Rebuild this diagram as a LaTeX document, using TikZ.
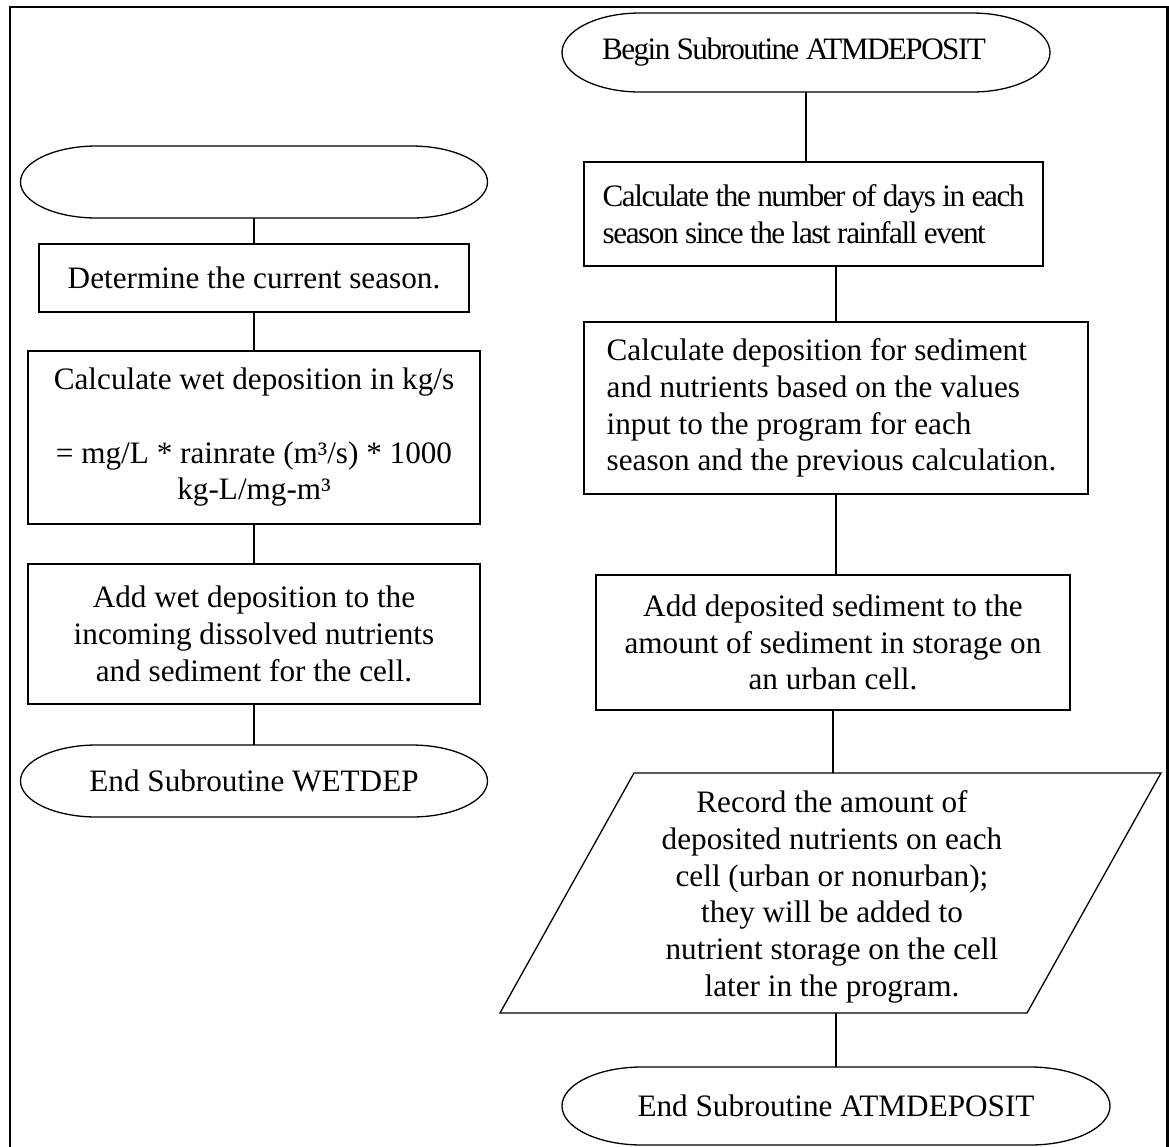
\documentclass[tikz,border=0pt]{standalone}
\usepackage{fontspec}
\setmainfont{Liberation Serif}
\newfontfamily\tightA[LetterSpace=-5.0]{Liberation Serif}
\newfontfamily\tightB[LetterSpace=-4.5]{Liberation Serif}
\newdimen\pxu \pxu=0.3846pt
\def\px{*0.3846pt}
\newcommand\termshape[4]{%
  \draw[shapeline] (#1.north west) ++(#4,0) -- ++({#2-2*#4},0)
    arc[start angle=90,end angle=-90,x radius=#4,y radius={#3/2}]
    -- ++({-(#2-2*#4)},0)
    arc[start angle=270,end angle=90,x radius=#4,y radius={#3/2}] -- cycle;}
\begin{document}
\begin{tikzpicture}[x=0.3846pt,y=0.3846pt,
  shapeline/.style={line width=0.5pt},
  box/.style={draw, line width=0.5pt, inner sep=0pt, outer sep=0pt, align=center,
    font=\fontsize{12}{14.1}\selectfont},
  term/.style={inner sep=0pt, outer sep=0pt, align=center,
    font=\fontsize{12}{14.1}\selectfont},
  conn/.style={line width=0.5pt},
  frame/.style={line width=0.8pt}]

\useasboundingbox (0,0) rectangle (1169,-1147);
\draw[frame] (10,-1147) -- (10,-7) -- (1167.5,-7) -- (1167.5,-1147);

% left column
\node[term, minimum width=467\px, minimum height=72\px] (e0) at (254,-182) {};
\node[box, minimum width=430\px, minimum height=68\px] (b1) at (254,-278) {Determine the current season.};
\node[box, minimum width=452\px, minimum height=173\px] (b2) at (254,-437.5)
  {Calculate wet deposition in kg/s\\[14.1pt]= mg/L * rainrate (m³/s) * 1000\\kg-L/mg-m³};
\node[box, minimum width=452\px, minimum height=140\px] (b3) at (254,-634)
  {Add wet deposition to the\\incoming dissolved nutrients\\and sediment for the cell.};
\node[term, minimum width=467\px, minimum height=72\px] (e1) at (254,-781) {End Subroutine WETDEP};
\termshape{e0}{467}{72}{76}
\termshape{e1}{467}{72}{76}

% right column
\node[term, minimum width=488\px, minimum height=79\px, font=\tightA\fontsize{12}{14.1}\selectfont] (eA) at (806,-52.5)
  {Begin Subroutine ATMDEPOSIT\hspace*{24\pxu}};
\node[box, align=left, minimum width=459\px, minimum height=104\px, font=\tightB\fontsize{12}{14.1}\selectfont] (r1) at (813.5,-214)
  {Calculate the number of days in each\\season since the last rainfall event};
\node[box, align=left, minimum width=504\px, minimum height=172\px] (r2) at (836,-408)
  {Calculate deposition for sediment\\and nutrients based on the values\\input to the program for each\\season and the previous calculation.\hspace*{9\pxu}};
\node[box, minimum width=474\px, minimum height=135\px] (r3) at (833,-642.5)
  {Add deposited sediment to the\\amount of sediment in storage on\\an urban cell.};
\draw[shapeline] (500,-1013) -- (1027,-1013) -- (1161,-773) -- (634,-773) -- cycle;
\coordinate (pT) at (833,-773);
\coordinate (pB) at (836,-1013);
\node[term] (pa) at (832,-897)
  {Record the amount of\\deposited nutrients on each\\cell (urban or nonurban);\\they will be added to\\nutrient storage on the cell\\later in the program.};
\node[term, minimum width=548\px, minimum height=78\px] (eB) at (836,-1106) {End Subroutine ATMDEPOSIT};
\termshape{eA}{488}{79}{78}
\termshape{eB}{548}{78}{80}

% connectors
\draw[conn] (e0.south) -- (b1.north);
\draw[conn] (b1.south) -- (b2.north);
\draw[conn] (b2.south) -- (b3.north);
\draw[conn] (b3.south) -- (e1.north);
\draw[conn] (eA.south) -- (eA.south |- r1.north);
\draw[conn] (r2.north |- r1.south) -- (r2.north);
\draw[conn] (r2.south) -- (r2.south |- r3.north);
\draw[conn] (r3.south) -- (pT);
\draw[conn] (pB) -- (pB |- eB.north);
\end{tikzpicture}
\end{document}
